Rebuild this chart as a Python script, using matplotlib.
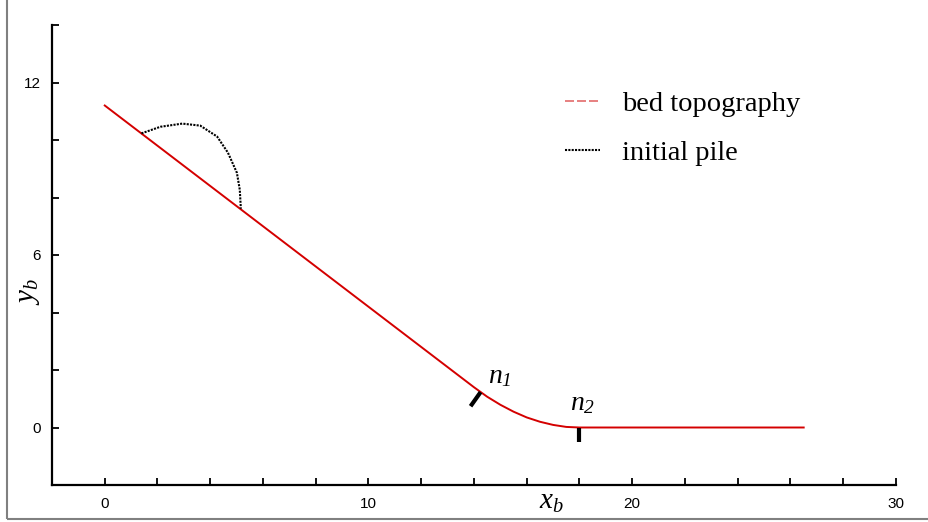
import matplotlib
matplotlib.use("Agg")
import matplotlib.pyplot as plt
from matplotlib.lines import Line2D
from matplotlib.patches import Rectangle

# bed topography: straight slope, curved transition between n1 and n2, flat run-out
bed_x = [0.0, 14.0, 14.5, 15.0, 15.5, 16.0, 16.5, 17.0, 17.5, 18.0, 26.5]
bed_y = [11.2, 1.4, 1.07, 0.79, 0.55, 0.35, 0.20, 0.09, 0.02, 0.0, 0.0]

# initial pile outline (dotted)
pile_x = [1.39, 2.11, 2.94, 3.62, 4.26, 4.67, 5.01, 5.12, 5.16]
pile_y = [10.23, 10.46, 10.57, 10.50, 10.12, 9.56, 8.86, 8.27, 7.61]

# n1 / n2 markers: start point on the bed and end point
n1_seg = ([14.25, 13.87], [1.23, 0.74])
n2_seg = ([18.0, 18.0], [0.0, -0.5])

# all math text in italic Times-like serif (subscript digits too)
plt.rcParams["mathtext.fontset"] = "custom"
plt.rcParams["mathtext.it"] = "Liberation Serif:italic"
plt.rcParams["mathtext.rm"] = "Liberation Serif:italic"
plt.rcParams["font.family"] = "Liberation Sans"

fig = plt.figure(figsize=(9.29, 5.22), dpi=100)
ax = fig.add_axes([52 / 929, 37 / 522, 844 / 929, 460 / 522])

ax.plot(bed_x, bed_y, color="#d40000", linewidth=1.4)
ax.plot(pile_x, pile_y, color="black", linestyle=(0, (1, 0.6)), linewidth=1.5)
ax.plot(*n1_seg, color="black", linewidth=3, solid_capstyle="butt")
ax.plot(*n2_seg, color="black", linewidth=3, solid_capstyle="butt")

ax.text(14.54, 1.53, r"$n_1$", fontsize=20)
ax.text(17.63, 0.59, r"$n_2$", fontsize=20)

ax.set_xlim(-2, 30)
ax.set_ylim(-2, 14)
ax.set_xticks([0, 10, 20, 30])
ax.set_xticks(range(0, 31, 2), minor=True)
ax.set_yticks([0, 6, 12])
ax.set_yticks(range(0, 15, 2), minor=True)

for s in ["top", "right"]:
    ax.spines[s].set_visible(False)
for s in ["left", "bottom"]:
    ax.spines[s].set_linewidth(1.6)
ax.tick_params(which="both", direction="in", length=5, width=1.3, labelsize=11)
ax.tick_params(axis="x", pad=9)
ax.tick_params(axis="y", pad=8)

ax.set_xlabel(r"$x_b$", fontsize=21)
ax.xaxis.set_label_coords(0.592, -0.004)
ax.set_ylabel(r"$y_b$", fontsize=21)
ax.yaxis.set_label_coords(-0.012, 0.42)

handles = [
    Line2D([], [], color="#e36b6b", linestyle=(0, (5.4, 1.8)), linewidth=1.2),
    Line2D([], [], color="black", linestyle=(0, (1, 0.6)), linewidth=1.5),
]
ax.legend(handles, ["bed topography", "initial pile"], loc="upper left",
          bbox_to_anchor=(0.608, 0.857), frameon=False, borderpad=0,
          borderaxespad=0, handlelength=1.23, handletextpad=0.77,
          labelspacing=0.82, prop={"family": "Liberation Serif", "size": 20.5})

fig.patches.append(Rectangle((7 / 929, 3 / 522), 1.0, 1.0, transform=fig.transFigure,
                             fill=False, edgecolor="#808080", linewidth=1.5))

fig.savefig("out.png", dpi=100)
